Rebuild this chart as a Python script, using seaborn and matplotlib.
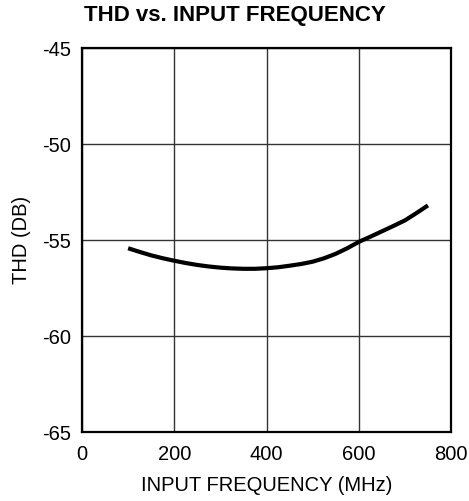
import matplotlib
matplotlib.use("Agg")
import matplotlib.pyplot as plt
import pandas as pd
import seaborn as sns

# THD curve
freq_mhz = [100, 125, 150, 175, 200, 225, 250, 275, 300, 325, 350, 375, 400,
            425, 450, 475, 500, 525, 550, 575, 600, 625, 650, 675, 700, 725, 750]
thd_db = [-55.43, -55.62, -55.8, -55.95, -56.08, -56.2, -56.3, -56.38, -56.44,
          -56.48, -56.5, -56.5, -56.47, -56.42, -56.34, -56.25, -56.13, -55.95,
          -55.72, -55.43, -55.1, -54.83, -54.55, -54.27, -53.98, -53.6, -53.2]

x_ticks = [0, 200, 400, 600, 800]
y_ticks = [-65, -60, -55, -50, -45]

sns.set_style("white")
plt.rcParams["font.family"] = ["Liberation Sans", "DejaVu Sans"]
plt.rcParams["axes.unicode_minus"] = False
plt.rcParams["text.color"] = "black"
plt.rcParams["axes.labelcolor"] = "black"

df = pd.DataFrame({"freq": freq_mhz, "thd": thd_db})

fig = plt.figure(figsize=(4.69, 5.01), dpi=100)
ax = fig.add_axes([82 / 469, 1 - 432 / 501, (451 - 82) / 469, (432 - 48) / 501])

sns.lineplot(data=df, x="freq", y="thd", ax=ax, color="black", linewidth=3.0,
             solid_joinstyle="round", solid_capstyle="butt")

ax.set_xlim(0, 800)
ax.set_ylim(-65, -45)
ax.set_xticks(x_ticks)
ax.set_yticks(y_ticks)
ax.grid(True, color="#333333", linewidth=1.0)
ax.tick_params(length=0, labelsize=14.5, colors="black")
ax.tick_params(axis="x", pad=9)
ax.tick_params(axis="y", pad=8)
for spine in ax.spines.values():
    spine.set_color("black")
    spine.set_linewidth(1.6)

ax.set_xlabel("INPUT FREQUENCY (MHz)", fontsize=14.5, labelpad=9)
ax.set_ylabel("THD (DB)", fontsize=14.5, labelpad=8)
fig.text(235 / 469, 1 - 16 / 501, "THD vs. INPUT FREQUENCY", ha="center", va="center",
         fontsize=16, fontweight="bold")

fig.savefig("out.png", dpi=100)
